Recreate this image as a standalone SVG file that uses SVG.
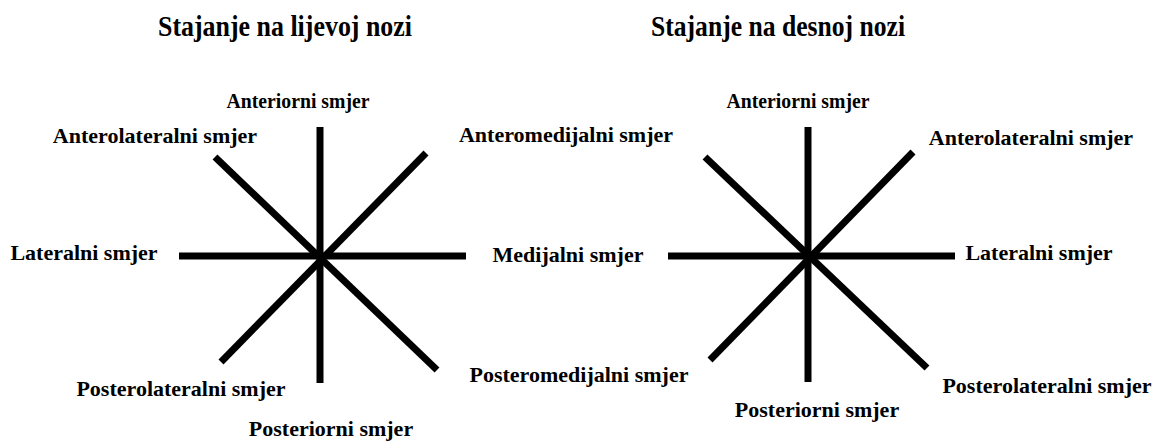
<svg xmlns="http://www.w3.org/2000/svg" width="1154" height="441" viewBox="0 0 1154 441">
<style>
.t{font-family:"Liberation Serif","Times New Roman",serif;font-weight:bold;fill:#000;text-anchor:middle}
.title{font-size:30px}
.lbl{font-size:22px}
.ant{font-size:22px}
.ln{stroke:#000;stroke-width:7;fill:none}
</style>
<rect width="1154" height="441" fill="#fff"/>
<g id="connectors">
<line class="ln" x1="320" y1="127" x2="320" y2="383"/>
<line class="ln" x1="179" y1="256" x2="466" y2="256"/>
<line class="ln" x1="215" y1="157" x2="437" y2="370"/>
<line class="ln" x1="426" y1="153" x2="221" y2="362"/>
<line class="ln" x1="808" y1="127" x2="808" y2="382"/>
<line class="ln" x1="668" y1="256" x2="955" y2="256"/>
<line class="ln" x1="705" y1="157" x2="927" y2="368"/>
<line class="ln" x1="913" y1="152" x2="710" y2="360"/>
</g>
<g id="title-left"><text class="t title" x="285" y="36" textLength="254" lengthAdjust="spacingAndGlyphs">Stajanje na lijevoj nozi</text></g>
<g id="title-right"><text class="t title" x="778" y="36" textLength="254" lengthAdjust="spacingAndGlyphs">Stajanje na desnoj nozi</text></g>
<g id="L-anterior"><text class="t ant" x="298" y="108" textLength="143" lengthAdjust="spacingAndGlyphs">Anteriorni smjer</text></g>
<g id="L-anterolateral"><text class="t lbl" x="155" y="143">Anterolateralni smjer</text></g>
<g id="L-anteromedial"><text class="t lbl" x="566" y="142">Anteromedijalni smjer</text></g>
<g id="L-lateral"><text class="t lbl" x="84" y="260">Lateralni smjer</text></g>
<g id="L-medial"><text class="t lbl" x="568" y="262">Medijalni smjer</text></g>
<g id="L-posterolateral"><text class="t lbl" x="181" y="396">Posterolateralni smjer</text></g>
<g id="L-posterior"><text class="t lbl" x="331" y="436">Posteriorni smjer</text></g>
<g id="R-anterior"><text class="t ant" x="798" y="108" textLength="143" lengthAdjust="spacingAndGlyphs">Anteriorni smjer</text></g>
<g id="R-anterolateral"><text class="t lbl" x="1031" y="145">Anterolateralni smjer</text></g>
<g id="R-lateral"><text class="t lbl" x="1039" y="260">Lateralni smjer</text></g>
<g id="R-posteromedial"><text class="t lbl" x="579" y="382">Posteromedijalni smjer</text></g>
<g id="R-posterior"><text class="t lbl" x="817" y="417">Posteriorni smjer</text></g>
<g id="R-posterolateral"><text class="t lbl" x="1047" y="393">Posterolateralni smjer</text></g>
</svg>
